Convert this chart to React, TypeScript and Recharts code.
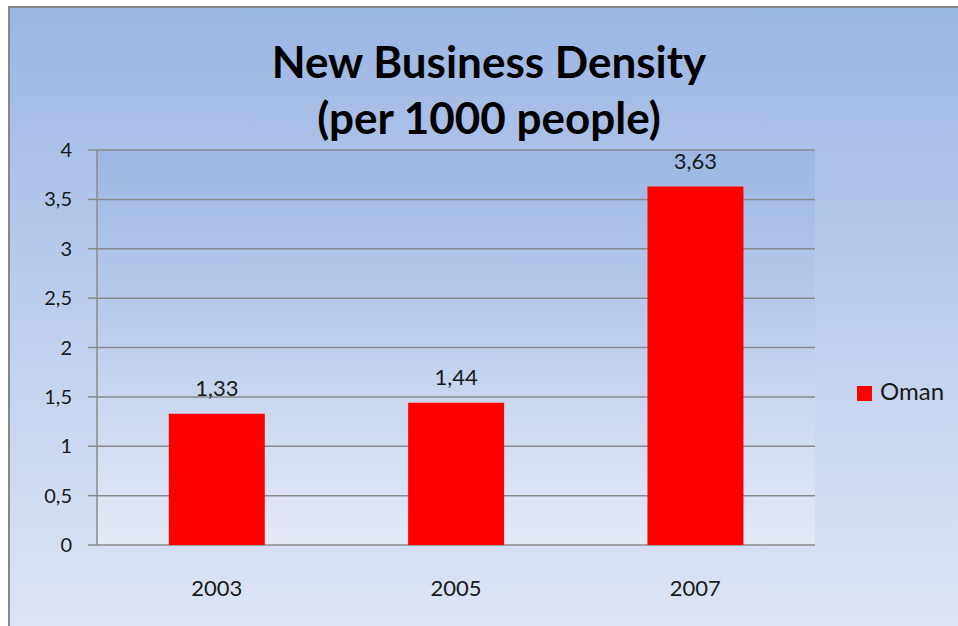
import { BarChart, Bar, XAxis, YAxis, CartesianGrid, Legend, LabelList } from 'recharts';

const YEARS = ['2003', '2005', '2007'];
const OMAN = [1.33, 1.44, 3.63];
const Y_TICKS = [0, 0.5, 1, 1.5, 2, 2.5, 3, 3.5, 4];
const EDGE_TICKS = [0, 1, 2, 3];

const data = YEARS.map((year, i) => ({ year, Oman: OMAN[i] }));

const comma = (v: number | string) => String(v).replace('.', ',');
const FONT = 'Lato, "Open Sans", sans-serif';
const TEXT = '#1a1a1a';
const LINE = '#8a8a8a';

export default function App() {
  return (
    <div
      style={{
        position: 'absolute',
        left: 0,
        top: 0,
        width: 958,
        height: 626,
        overflow: 'hidden',
        background: '#ffffff',
        fontFamily: FONT,
      }}
    >
      <div
        style={{
          position: 'absolute',
          left: 8,
          top: 6,
          width: 960,
          height: 640,
          border: '2px solid #878787',
          background: 'linear-gradient(to bottom, #9bb5e3 0%, #c3d2ee 55%, #dfe6f4 100%)',
        }}
      />
      <div
        style={{
          position: 'absolute',
          left: 0,
          top: 33,
          width: 978,
          textAlign: 'center',
          fontSize: 44,
          fontWeight: 700,
          lineHeight: '56px',
          color: '#000',
        }}
      >
        New Business Density
        <br />
        (per 1000 people)
      </div>
      <BarChart
        width={958}
        height={626}
        data={data}
        margin={{ top: 150, right: 43, bottom: 0, left: 0 }}
        barCategoryGap="30%"
        style={{ position: 'absolute', left: 0, top: 0 }}
      >
        <defs>
          <linearGradient id="plotBg" x1="0" y1="0" x2="0" y2="1">
            <stop offset="0%" stopColor="#9cb6e3" />
            <stop offset="100%" stopColor="#e4eaf6" />
          </linearGradient>
        </defs>
        <CartesianGrid vertical={false} stroke={LINE} strokeWidth={1.5} fill="url(#plotBg)" fillOpacity={1} />
        <XAxis
          xAxisId="edges"
          type="number"
          domain={[0, 3]}
          ticks={EDGE_TICKS}
          tick={false}
          height={0}
          tickSize={8}
          axisLine={{ stroke: LINE, strokeWidth: 1.5 }}
          tickLine={{ stroke: LINE, strokeWidth: 1.5 }}
        />
        <XAxis
          xAxisId="cat"
          dataKey="year"
          height={81}
          axisLine={false}
          tickLine={false}
          tickSize={8}
          tickMargin={27}
          tick={{ fill: TEXT, fontSize: 22, fontFamily: FONT }}
        />
        <YAxis
          width={97}
          domain={[0, 4]}
          ticks={Y_TICKS}
          interval={0}
          tickFormatter={comma}
          tickSize={9}
          tickMargin={16}
          axisLine={{ stroke: LINE, strokeWidth: 1.5 }}
          tickLine={{ stroke: LINE, strokeWidth: 1.5 }}
          tick={{ fill: TEXT, fontSize: 20, fontFamily: FONT }}
        />
        <Legend
          layout="vertical"
          align="right"
          verticalAlign="middle"
          iconType="square"
          iconSize={15}
          wrapperStyle={{ left: 857, top: 376, width: 100, fontSize: 24, fontFamily: FONT }}
          formatter={(value: string) => (
            <span style={{ color: TEXT, marginLeft: 4 }}>{value}</span>
          )}
        />
        <Bar xAxisId="cat" dataKey="Oman" fill="#ff0000" isAnimationActive={false}>
          <LabelList
            dataKey="Oman"
            position="top"
            offset={18}
            formatter={comma}
            style={{ fill: TEXT, fontSize: 22, fontFamily: FONT }}
          />
        </Bar>
      </BarChart>
    </div>
  );
}
